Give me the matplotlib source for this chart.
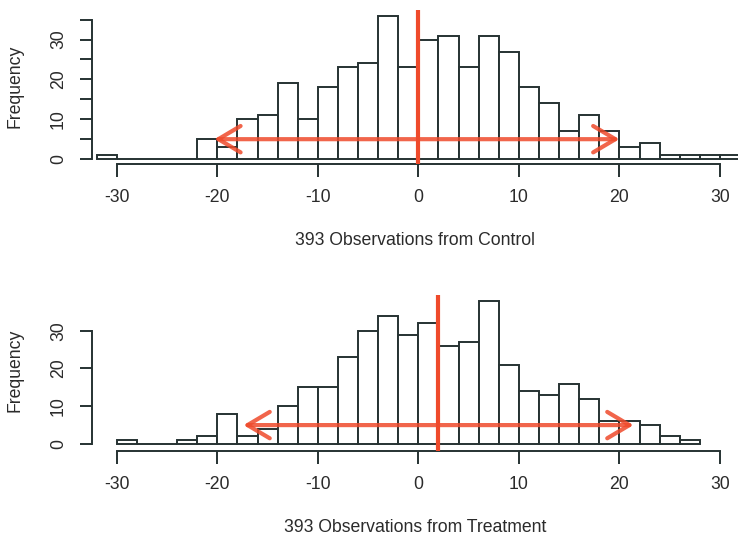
import numpy as np
import matplotlib
matplotlib.use("Agg")
import matplotlib.pyplot as plt

# bin left edges (width 2) and counts
ctrl_edges = list(range(-32, 32, 2))
ctrl_counts = [1, 0, 0, 0, 0, 5, 3, 10, 11, 19, 10, 18, 23, 24, 36, 23,
               30, 31, 23, 31, 27, 18, 14, 7, 11, 7, 3, 4, 1, 1, 1, 1]
trt_edges = list(range(-30, 28, 2))
trt_counts = [1, 0, 0, 1, 2, 8, 2, 4, 10, 15, 15, 23, 30, 34, 29,
              32, 26, 27, 38, 21, 14, 13, 16, 12, 6, 6, 5, 2, 1]

# red centre line and spread arrow (centre, left end, right end, height)
ctrl_mark = (0, -20.3, 20.0, 5)
trt_mark = (2, -17.4, 21.4, 5)

xlabels = ["393 Observations from Control", "393 Observations from Treatment"]
xticks = [-30, -20, -10, 0, 10, 20, 30]

plt.rcParams['font.family'] = ['Liberation Sans', 'DejaVu Sans']
txt = '#2b2b2b'
edge = '#263232'
red = '#ef4a2b'
fs = 12.7

fig = plt.figure(figsize=(7.38, 5.38), dpi=100)

# [left, bottom, width, height], ylim, y-axis span, y ticks
panels = [
    dict(pos=[0.1247, 0.695, 0.8753, 0.290], ylim=(-1.25, 37.9),
         ybound=(0, 35), yticks=range(0, 36, 5),
         edges=ctrl_edges, counts=ctrl_counts, mark=ctrl_mark, vtop=37.4),
    dict(pos=[0.1247, 0.1623, 0.8753, 0.2987], ylim=(-1.78, 40.8),
         ybound=(0, 30), yticks=range(0, 31, 10),
         edges=trt_edges, counts=trt_counts, mark=trt_mark, vtop=39.5),
]

for p, lab in zip(panels, xlabels):
    ax = fig.add_axes(p['pos'])
    ax.bar(p['edges'], p['counts'], width=2, align='edge',
           facecolor='white', edgecolor=edge, linewidth=1.4)
    ax.set_xlim(-32.46, 31.79)
    ax.set_ylim(*p['ylim'])

    c, lo, hi, h = p['mark']
    ax.vlines(c, p['ylim'][0], p['vtop'], color=red, linewidth=3, zorder=5)
    ax.annotate('', xy=(hi, h), xytext=(lo, h),
                arrowprops=dict(arrowstyle='<->,head_length=1.6,head_width=0.95',
                                color=red, lw=3, alpha=0.85,
                                shrinkA=0, shrinkB=0), zorder=6)

    for s in ['top', 'right']:
        ax.spines[s].set_visible(False)
    ax.spines['left'].set_bounds(*p['ybound'])
    ax.spines['bottom'].set_bounds(-30, 30)
    for s in ['left', 'bottom']:
        ax.spines[s].set_color(edge)
        ax.spines[s].set_linewidth(1.4)

    ax.set_xticks(xticks)
    ax.set_xticklabels([str(t) for t in xticks])
    yt = list(p['yticks'])
    ax.set_yticks(yt)
    ax.set_yticklabels([str(t) if t % 10 == 0 else '' for t in yt],
                       rotation=90, va='center')
    ax.tick_params(length=9, width=1.4, color=edge, labelcolor=txt,
                   labelsize=fs, pad=9)
    ax.set_xlabel(lab, fontsize=fs, color=txt, labelpad=19)
    ax.set_ylabel('Frequency', fontsize=fs, color=txt, labelpad=19)

fig.savefig('out.png', dpi=100)
